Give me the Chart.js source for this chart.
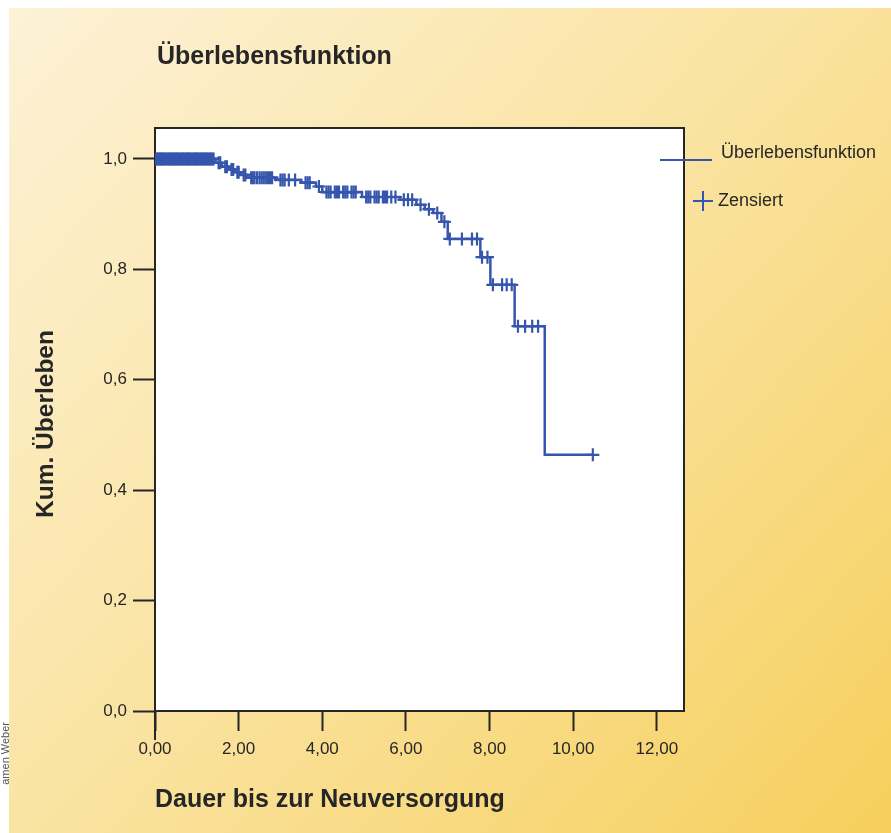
<!DOCTYPE html>
<html>
<head>
<meta charset="utf-8">
<script src="https://cdn.jsdelivr.net/npm/chart.js@4"></script>
<style>
  html, body { margin: 0; padding: 0; background: #fff; }
  #wrap { width: 891px; height: 833px; }
</style>
</head>
<body>
<div id="wrap"><canvas id="kmChart" width="891" height="833"></canvas></div>
<script>
// Kaplan-Meier: Zeitpunkte der Ereignisse und Überleben danach
const eventZeit = [0, 1.45, 1.6, 1.75, 1.9, 2.05, 2.2, 2.9, 3.5, 3.85, 4.0, 4.95, 5.85, 6.25, 6.45, 6.65, 6.85, 7.0, 7.78, 8.02, 8.6, 9.32, 10.47];
const eventUeberleben = [1.0, 0.993, 0.986, 0.981, 0.976, 0.971, 0.966, 0.962, 0.957, 0.950, 0.940, 0.931, 0.926, 0.917, 0.909, 0.902, 0.886, 0.855, 0.822, 0.772, 0.697, 0.464, 0.464];

// zensierte Fälle (nur Zeit, Höhe folgt der Kurve)
const zensiertZeit = [0.02, 0.05, 0.08, 0.11, 0.13, 0.16, 0.18, 0.21, 0.24, 0.27, 0.3, 0.33, 0.35, 0.38, 0.41, 0.44, 0.47, 0.5, 0.52, 0.55, 0.58, 0.61,
  0.64, 0.67, 0.7, 0.73, 0.76, 0.79, 0.81, 0.84, 0.87, 0.9, 0.93, 0.96, 0.98, 1.01, 1.04, 1.07, 1.1, 1.13, 1.16, 1.19, 1.22, 1.25, 1.28, 1.31, 1.34, 1.37, 1.4,
  1.52, 1.56, 1.68, 1.72, 1.83, 1.87, 1.97, 2.0, 2.12, 2.16, 2.3, 2.34, 2.38, 2.44, 2.5, 2.55, 2.6, 2.65, 2.7, 2.75, 2.8, 3.0, 3.05, 3.1, 3.2, 3.35,
  3.6, 3.65, 3.7, 3.92, 4.1, 4.15, 4.2, 4.3, 4.35, 4.4, 4.5, 4.55, 4.6, 4.7, 4.75, 4.8,
  5.05, 5.1, 5.15, 5.25, 5.3, 5.35, 5.45, 5.5, 5.55, 5.65, 5.75, 5.95, 6.05, 6.15, 6.35, 6.55, 6.75, 6.92,
  7.05, 7.34, 7.58, 7.7, 7.82, 7.95, 8.08, 8.3, 8.41, 8.53, 8.68, 8.85, 9.02, 9.16, 10.47];

const xTicks = [0, 2, 4, 6, 8, 10, 12];
const xTickLabels = ['0,00', '2,00', '4,00', '6,00', '8,00', '10,00', '12,00'];
const yTicks = [0, 0.2, 0.4, 0.6, 0.8, 1.0];
const yTickLabels = ['0,0', '0,2', '0,4', '0,6', '0,8', '1,0'];

const blau = '#3656ad';
const dunkel = '#262626';
const FONT = '"Liberation Sans", Arial, sans-serif';

function survAt(t){
    let s = eventUeberleben[0];
    for(let i=0;i<eventZeit.length;i++){
        if(eventZeit[i] <= t) s = eventUeberleben[i];
    }
    return s;
}

function fitFont(ctx, text, weight, width){
    ctx.font = weight + ' 20px ' + FONT;
    return 20 * width / ctx.measureText(text).width;
}

const deko = {
    id: 'deko',
    beforeDraw(chart){
        const c = chart.ctx, a = chart.chartArea;
        c.save();
        let g = c.createLinearGradient(0, 0, 891, 833);
        g.addColorStop(0, '#fdf2d8');
        g.addColorStop(0.5, '#fae3a0');
        g.addColorStop(1, '#f6cf5c');
        c.fillStyle = g;
        c.fillRect(0, 0, 891, 833);
        c.fillStyle = '#ffffff';
        c.fillRect(0, 0, 891, 8);
        c.fillRect(0, 0, 9, 833);
        c.fillRect(a.left, a.top, a.right - a.left, a.bottom - a.top);
        c.restore();
    },
    afterDraw(chart){
        const c = chart.ctx, a = chart.chartArea;
        c.save();
        // Rahmen oben und rechts
        c.strokeStyle = dunkel;
        c.lineWidth = 2;
        c.beginPath();
        c.moveTo(a.left, a.top);
        c.lineTo(a.right, a.top);
        c.lineTo(a.right, a.bottom);
        c.stroke();
        c.beginPath();
        c.moveTo(a.left, a.bottom);
        c.lineTo(a.left, a.bottom + 29);
        c.stroke();

        c.fillStyle = dunkel;
        c.textBaseline = 'middle';
        // Titel
        let t = 'Überlebensfunktion';
        c.font = 'bold ' + fitFont(c, t, 'bold', 235) + 'px ' + FONT;
        c.textAlign = 'left';
        c.fillText(t, 157, 57);
        // x Achsentitel
        t = 'Dauer bis zur Neuversorgung';
        c.font = 'bold ' + fitFont(c, t, 'bold', 350) + 'px ' + FONT;
        c.fillText(t, 155, 800);
        // y Achsentitel
        t = 'Kum. Überleben';
        c.font = 'bold ' + fitFont(c, t, 'bold', 188) + 'px ' + FONT;
        c.translate(46, 424);
        c.rotate(-Math.PI / 2);
        c.textAlign = 'center';
        c.fillText(t, 0, 0);
        c.restore();

        // Legende
        c.save();
        c.strokeStyle = blau;
        c.lineWidth = 2;
        c.beginPath();
        c.moveTo(660, 160);
        c.lineTo(712, 160);
        c.stroke();
        c.beginPath();
        c.moveTo(693, 201); c.lineTo(713, 201);
        c.moveTo(703, 191); c.lineTo(703, 211);
        c.stroke();
        c.fillStyle = dunkel;
        c.textBaseline = 'middle';
        c.textAlign = 'left';
        c.font = '18px ' + FONT;
        c.fillText('Überlebensfunktion', 721, 153);
        c.fillText('Zensiert', 718, 201);
        // Bildnachweis am Rand
        c.fillStyle = '#555';
        c.font = '11px ' + FONT;
        c.translate(6, 722);
        c.rotate(-Math.PI / 2);
        c.textAlign = 'right';
        c.fillText('amen Weber', 0, 0);
        c.restore();
    }
};

new Chart(document.getElementById('kmChart'), {
    type: 'scatter',
    data: {
        datasets: [{
            label: 'Überlebensfunktion',
            data: eventZeit.map((t, i) => ({x: t, y: eventUeberleben[i]})),
            showLine: true,
            stepped: 'before',
            borderColor: blau,
            borderWidth: 2.5,
            pointRadius: 0,
            fill: false
        }, {
            label: 'Zensiert',
            data: zensiertZeit.map(t => ({x: t, y: survAt(t)})),
            showLine: false,
            pointStyle: 'cross',
            pointRadius: 6.5,
            borderColor: blau,
            borderWidth: 2.2
        }]
    },
    options: {
        responsive: false,
        animation: false,
        layout: { padding: { left: 0, top: 128, right: 207, bottom: 0 } },
        plugins: { legend: { display: false }, tooltip: { enabled: false } },
        scales: {
            x: {
                type: 'linear',
                min: 0,
                max: 12.65,
                afterFit: s => { s.height = 122; },
                afterBuildTicks: s => { s.ticks = xTicks.map(v => ({value: v})); },
                ticks: {
                    callback: (v) => xTickLabels[xTicks.indexOf(v)],
                    color: dunkel,
                    font: { size: 17, family: FONT },
                    padding: 8,
                    maxRotation: 0,
                    autoSkip: false
                },
                grid: { drawOnChartArea: false, drawTicks: true, tickLength: 20, tickWidth: 2, tickColor: dunkel },
                border: { display: true, color: dunkel, width: 2 }
            },
            y: {
                min: 0,
                max: 1.056,
                afterFit: s => { s.width = 155; },
                afterBuildTicks: s => { s.ticks = yTicks.map(v => ({value: v})); },
                ticks: {
                    callback: (v) => yTickLabels[yTicks.indexOf(v)],
                    color: dunkel,
                    font: { size: 17, family: FONT },
                    padding: 6
                },
                grid: { drawOnChartArea: false, drawTicks: true, tickLength: 22, tickWidth: 2, tickColor: dunkel },
                border: { display: true, color: dunkel, width: 2 }
            }
        }
    },
    plugins: [deko]
});
</script>
</body>
</html>
